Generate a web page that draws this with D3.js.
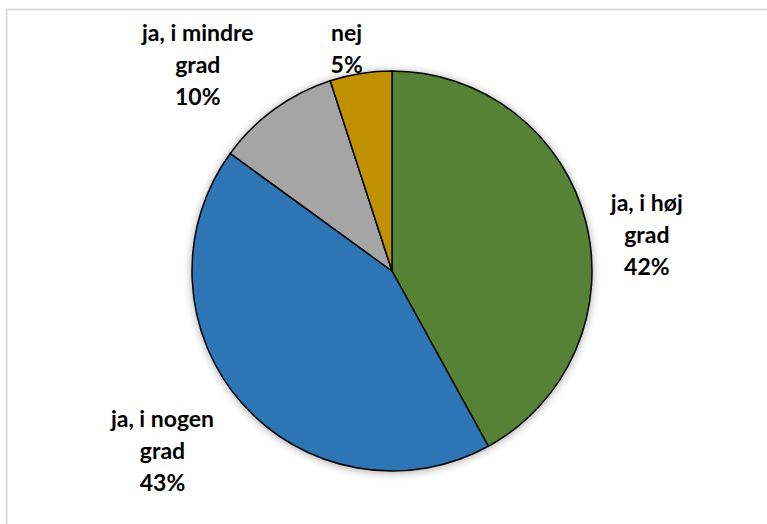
<!DOCTYPE html>
<html>
<head>
<meta charset="utf-8">
<script src="https://cdn.jsdelivr.net/npm/d3@7"></script>
<style>
  body { margin: 0; background: #fff; }
  svg { display: block; }
</style>
</head>
<body>
<svg id="pieChart"></svg>
<script>
// answers, in the order drawn clockwise from 12 o'clock
const categories = ["ja, i høj grad", "ja, i nogen grad", "ja, i mindre grad", "nej"];
const shares = [42, 43, 10, 5];
const labelLines = [
  ["ja, i høj", "grad", "42%"],
  ["ja, i nogen", "grad", "43%"],
  ["ja, i mindre", "grad", "10%"],
  ["nej", "5%"]
];
const sliceColors = ["#548235", "#2E75B6", "#A5A5A5", "#BF9000"];

function getPieConfig() {
  const dimensions = { width: 767, height: 524, cx: 392, cy: 271, radius: 200 };
  const container = d3
    .select("#pieChart")
    .attr("width", dimensions.width)
    .attr("height", dimensions.height);
  return { dimensions, container };
}

function drawFrame(config) {
  // chart area border, runs off the right and bottom of the picture
  config.container
    .append("rect")
    .attr("x", 6.5)
    .attr("y", 9.5)
    .attr("width", 800)
    .attr("height", 600)
    .attr("fill", "#fff")
    .attr("stroke", "#d9d9d9")
    .attr("stroke-width", 2);
}

function drawPie(config) {
  const { container, dimensions } = config;
  const data = categories.map((c, i) => ({ name: c, value: shares[i], lines: labelLines[i] }));

  const defs = container.append("defs");
  const shadow = defs.append("filter").attr("id", "shadow")
    .attr("x", "-20%").attr("y", "-20%").attr("width", "140%").attr("height", "140%");
  shadow.append("feGaussianBlur").attr("in", "SourceAlpha").attr("stdDeviation", 4);
  shadow.append("feOffset").attr("dx", 0).attr("dy", 1).attr("result", "blur");
  shadow.append("feComponentTransfer").append("feFuncA").attr("type", "linear").attr("slope", 0.35);
  const merge = shadow.append("feMerge");
  merge.append("feMergeNode");
  merge.append("feMergeNode").attr("in", "SourceGraphic");

  const pie = d3.pie().sort(null).value(d => d.value);
  const arc = d3.arc().innerRadius(0).outerRadius(dimensions.radius);
  const arcs = pie(data);

  const g = container.append("g")
    .attr("transform", `translate(${dimensions.cx},${dimensions.cy})`);

  g.append("g")
    .attr("filter", "url(#shadow)")
    .selectAll("path")
    .data(arcs)
    .enter()
    .append("path")
    .attr("d", arc)
    .attr("fill", (d, i) => sliceColors[i])
    .attr("stroke", "#000")
    .attr("stroke-width", 1.5)
    .attr("stroke-linejoin", "round");

  // Excel placed these labels by hand, so each one gets its own nudge
  const placement = {
    "ja, i høj grad": { k: 1.3, dx: 3, dy: 29 },
    "ja, i nogen grad": { k: 1.45, dx: -12, dy: -12 },
    "ja, i mindre grad": { k: 1.38, dx: -32, dy: 17 },
    "nej": { k: 1.13, dx: -10, dy: 1 }
  };
  const lineHeight = 32;

  arcs.forEach(a => {
    const p = placement[a.data.name];
    const mid = (a.startAngle + a.endAngle) / 2;
    const r = dimensions.radius * p.k;
    const x = Math.sin(mid) * r + p.dx;
    const y = -Math.cos(mid) * r + p.dy;
    const n = a.data.lines.length;
    const text = g.append("text")
      .attr("text-anchor", "middle")
      .attr("font-family", "Lato, 'Open Sans', sans-serif")
      .attr("font-weight", "bold")
      .attr("font-size", 23)
      .attr("fill", "#000");
    a.data.lines.forEach((line, i) => {
      text.append("tspan")
        .attr("x", x)
        .attr("y", y + (i - (n - 1) / 2) * lineHeight)
        .attr("dy", "0.35em")
        .text(line);
    });
  });
}

function renderPie() {
  const config = getPieConfig();
  drawFrame(config);
  drawPie(config);
}

renderPie();
</script>
</body>
</html>
